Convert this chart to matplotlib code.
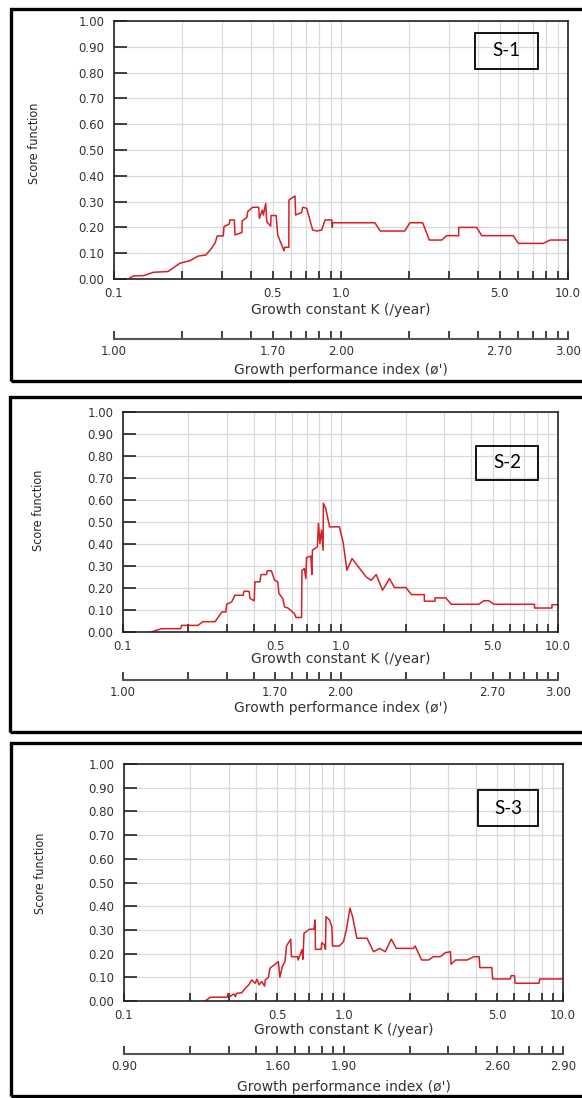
"""Length-frequency score function plots (ELEFAN style) for three stocks."""

import matplotlib

matplotlib.use("Agg")
import matplotlib.pyplot as plt
from matplotlib.patches import Rectangle

W, H = 582, 1098

# shared axis values
K_TICKS = [0.1, 0.2, 0.3, 0.4, 0.5, 0.6, 0.7, 0.8, 0.9, 1.0, 2.0, 3.0, 4.0, 5.0, 6.0, 7.0, 8.0, 9.0, 10.0]
K_LABELED = {0.1: "0.1", 0.5: "0.5", 1.0: "1.0", 5.0: "5.0", 10.0: "10.0"}
SCORE_TICKS = [0.0, 0.1, 0.2, 0.3, 0.4, 0.5, 0.6, 0.7, 0.8, 0.9, 1.0]

# growth performance index labels under K = 0.1, 0.5, 1.0, 5.0, 10.0
S1_PHI = ["1.00", "1.70", "2.00", "2.70", "3.00"]
S2_PHI = ["1.00", "1.70", "2.00", "2.70", "3.00"]
S3_PHI = ["0.90", "1.60", "1.90", "2.60", "2.90"]

S1_K = [0.117, 0.122, 0.135, 0.149, 0.173, 0.195, 0.216, 0.235, 0.254, 0.269,
        0.279, 0.285, 0.303, 0.305, 0.322, 0.324, 0.339, 0.341, 0.366, 0.367,
        0.385, 0.388, 0.408, 0.434, 0.437, 0.450, 0.455, 0.466, 0.471, 0.490,
        0.492, 0.518, 0.526, 0.548, 0.561, 0.565, 0.589, 0.590, 0.627, 0.631,
        0.671, 0.678, 0.706, 0.750, 0.782, 0.822, 0.851, 0.910, 0.916, 0.918,
        1.41, 1.49, 1.91, 2.01, 2.29, 2.45, 2.78, 2.92, 3.30, 3.30,
        3.96, 4.17, 5.74, 6.04, 7.78, 8.34, 10.0]
S1_SCORE = [0.003, 0.012, 0.013, 0.026, 0.029, 0.061, 0.071, 0.089, 0.093, 0.119,
            0.140, 0.167, 0.167, 0.203, 0.213, 0.229, 0.229, 0.171, 0.180, 0.225,
            0.239, 0.261, 0.278, 0.278, 0.235, 0.267, 0.248, 0.293, 0.222, 0.205,
            0.246, 0.246, 0.171, 0.132, 0.109, 0.123, 0.123, 0.306, 0.322, 0.248,
            0.258, 0.278, 0.274, 0.190, 0.186, 0.190, 0.229, 0.229, 0.200, 0.218,
            0.218, 0.186, 0.186, 0.218, 0.218, 0.151, 0.151, 0.168, 0.168, 0.200,
            0.200, 0.168, 0.168, 0.138, 0.138, 0.151, 0.151]

S2_K = [0.135, 0.150, 0.184, 0.186, 0.221, 0.233, 0.265, 0.285, 0.297, 0.300,
        0.316, 0.327, 0.357, 0.360, 0.380, 0.384, 0.401, 0.404, 0.426, 0.431,
        0.456, 0.461, 0.481, 0.498, 0.515, 0.521, 0.543, 0.553, 0.573, 0.614,
        0.624, 0.662, 0.665, 0.682, 0.693, 0.698, 0.731, 0.738, 0.743, 0.783,
        0.792, 0.804, 0.817, 0.832, 0.834, 0.855, 0.891, 0.989, 1.03, 1.07,
        1.13, 1.31, 1.38, 1.46, 1.56, 1.68, 1.77, 2.00, 2.12, 2.43,
        2.43, 2.72, 2.72, 3.05, 3.23, 4.32, 4.56, 4.81, 5.08, 7.80,
        7.80, 9.38, 9.38, 10.0]
S2_SCORE = [0.000, 0.015, 0.015, 0.030, 0.030, 0.047, 0.047, 0.091, 0.091, 0.126,
            0.137, 0.167, 0.167, 0.185, 0.185, 0.152, 0.142, 0.228, 0.228, 0.261,
            0.261, 0.278, 0.278, 0.235, 0.228, 0.175, 0.152, 0.114, 0.109, 0.084,
            0.066, 0.066, 0.281, 0.288, 0.243, 0.339, 0.345, 0.261, 0.372, 0.387,
            0.494, 0.403, 0.463, 0.372, 0.585, 0.562, 0.478, 0.478, 0.403, 0.281,
            0.334, 0.251, 0.235, 0.261, 0.190, 0.243, 0.202, 0.202, 0.170, 0.170,
            0.140, 0.140, 0.155, 0.155, 0.126, 0.126, 0.142, 0.142, 0.126, 0.126,
            0.109, 0.109, 0.124, 0.124]

S3_K = [0.234, 0.248, 0.295, 0.298, 0.305, 0.316, 0.322, 0.325, 0.344, 0.357,
        0.370, 0.382, 0.396, 0.403, 0.413, 0.424, 0.437, 0.440, 0.455, 0.462,
        0.505, 0.513, 0.526, 0.541, 0.550, 0.575, 0.579, 0.617, 0.621, 0.631,
        0.647, 0.653, 0.661, 0.700, 0.733, 0.743, 0.745, 0.791, 0.796, 0.818,
        0.828, 0.832, 0.863, 0.885, 0.891, 0.957, 1.00, 1.03, 1.07, 1.10,
        1.15, 1.28, 1.37, 1.46, 1.55, 1.65, 1.74, 2.08, 2.12, 2.27,
        2.44, 2.57, 2.76, 2.91, 3.07, 3.09, 3.24, 3.66, 3.93, 4.15,
        4.18, 4.74, 4.78, 5.74, 5.81, 6.01, 6.05, 7.78, 7.83, 10.0]
S3_SCORE = [0.000, 0.016, 0.016, 0.032, 0.020, 0.030, 0.018, 0.032, 0.035, 0.054,
            0.068, 0.089, 0.075, 0.092, 0.068, 0.082, 0.063, 0.089, 0.100, 0.138,
            0.166, 0.100, 0.145, 0.166, 0.232, 0.261, 0.187, 0.187, 0.173, 0.190,
            0.216, 0.176, 0.286, 0.303, 0.303, 0.342, 0.218, 0.218, 0.246, 0.237,
            0.218, 0.356, 0.342, 0.313, 0.232, 0.232, 0.250, 0.300, 0.392, 0.356,
            0.265, 0.265, 0.208, 0.222, 0.208, 0.261, 0.222, 0.222, 0.232, 0.173,
            0.173, 0.187, 0.187, 0.204, 0.208, 0.155, 0.173, 0.173, 0.187, 0.187,
            0.141, 0.141, 0.093, 0.093, 0.107, 0.107, 0.075, 0.075, 0.093, 0.093]

# layout in reference pixels
PANELS = [
    dict(tag="S-1", k=S1_K, score=S1_SCORE, phi=S1_PHI,
         box=(114, 21, 568, 279), frame=(11, 9, 381), tag_box=(475, 33, 538, 69),
         ylabel=(35, 143), klabel_y=310, phi_y=339, phi_title_y=370),
    dict(tag="S-2", k=S2_K, score=S2_SCORE, phi=S2_PHI,
         box=(123, 412, 558, 632), frame=(10, 397, 732), tag_box=(476, 446, 538, 480),
         ylabel=(38, 510), klabel_y=659, phi_y=680, phi_title_y=708),
    dict(tag="S-3", k=S3_K, score=S3_SCORE, phi=S3_PHI,
         box=(124, 764, 563, 1001), frame=(11, 743, 1096), tag_box=(478, 790, 538, 826),
         ylabel=(40, 873), klabel_y=1030, phi_y=1054, phi_title_y=1087),
]

LINE_RED = "#d42027"
GRID = "#d9d9d9"
AXIS = "#222222"
TEXT = "#333333"
TICK_FONT = dict(labelsize=8.5, labelcolor=TEXT)


def fx(px):
    return px / W


def fy(py):
    return 1 - py / H


def draw_panel(fig, p):
    x0, y0, x1, y1 = p["box"]
    ax = fig.add_axes([fx(x0), fy(y1), fx(x1) - fx(x0), fy(y0) - fy(y1)])
    ax.set_xscale("log")
    ax.set_xlim(0.1, 10)
    ax.set_ylim(0, 1)

    ax.plot(p["k"], p["score"], color=LINE_RED, lw=1.1)

    ax.set_xticks(K_TICKS)
    ax.set_xticklabels([K_LABELED.get(k, "") for k in K_TICKS])
    ax.xaxis.set_minor_locator(plt.NullLocator())
    ax.set_yticks(SCORE_TICKS)
    ax.set_yticklabels([f"{v:.2f}" for v in SCORE_TICKS])
    ax.grid(True, color=GRID, lw=0.9)
    ax.set_axisbelow(True)
    ax.tick_params(axis="x", direction="in", length=6, width=1.2, color=AXIS, pad=6, **TICK_FONT)
    ax.tick_params(axis="y", direction="in", length=9, width=1.2, color=AXIS, pad=7, **TICK_FONT)
    for s in ax.spines.values():
        s.set_color(AXIS)
        s.set_linewidth(1.2)

    # growth performance index scale
    sx = fig.add_axes([fx(x0), fy(p["phi_y"]), fx(x1) - fx(x0), 0.006])
    sx.set_xscale("log")
    sx.set_xlim(0.1, 10)
    sx.patch.set_visible(False)
    for side in ("top", "left", "right"):
        sx.spines[side].set_visible(False)
    sx.spines["bottom"].set_color("#555555")
    sx.spines["bottom"].set_linewidth(1.5)
    sx.set_yticks([])
    sx.set_xticks(K_TICKS)
    phi_iter = iter(p["phi"])
    sx.set_xticklabels([next(phi_iter) if k in K_LABELED else "" for k in K_TICKS])
    sx.xaxis.set_minor_locator(plt.NullLocator())
    sx.tick_params(axis="x", direction="in", length=6, width=1.2, color=AXIS, pad=4, **TICK_FONT)

    xm = (x0 + x1) / 2
    fig.text(fx(xm), fy(p["klabel_y"]), "Growth constant K (/year)", ha="center",
             va="center", fontsize=10, color=TEXT)
    fig.text(fx(xm), fy(p["phi_title_y"]), "Growth performance index (ø')", ha="center",
             va="center", fontsize=10, color=TEXT)
    fig.text(fx(p["ylabel"][0]), fy(p["ylabel"][1]), "Score function", rotation=90,
             ha="center", va="center", fontsize=9, color="#222222", fontstretch="condensed",
             family=["DejaVu Sans"])

    # panel tag box
    tx0, ty0, tx1, ty1 = p["tag_box"]
    fig.patches.append(Rectangle((fx(tx0), fy(ty1)), fx(tx1) - fx(tx0), fy(ty0) - fy(ty1),
                                 transform=fig.transFigure, fill=False, lw=1.3,
                                 edgecolor="black"))
    fig.text(fx((tx0 + tx1) / 2), fy((ty0 + ty1) / 2), p["tag"], ha="center", va="center",
             fontsize=13.5, family=["Lato", "DejaVu Sans"])

    # outer frame
    fl, ft, fb = p["frame"]
    fig.patches.append(Rectangle((fx(fl), fy(fb)), fx(W + 20) - fx(fl), fy(ft) - fy(fb),
                                 transform=fig.transFigure, fill=False, lw=2.4,
                                 edgecolor="black"))


def main():
    fig = plt.figure(figsize=(W / 100, H / 100), dpi=100)
    for panel in PANELS:
        draw_panel(fig, panel)
    fig.savefig("out.png", dpi=100)


if __name__ == "__main__":
    main()
